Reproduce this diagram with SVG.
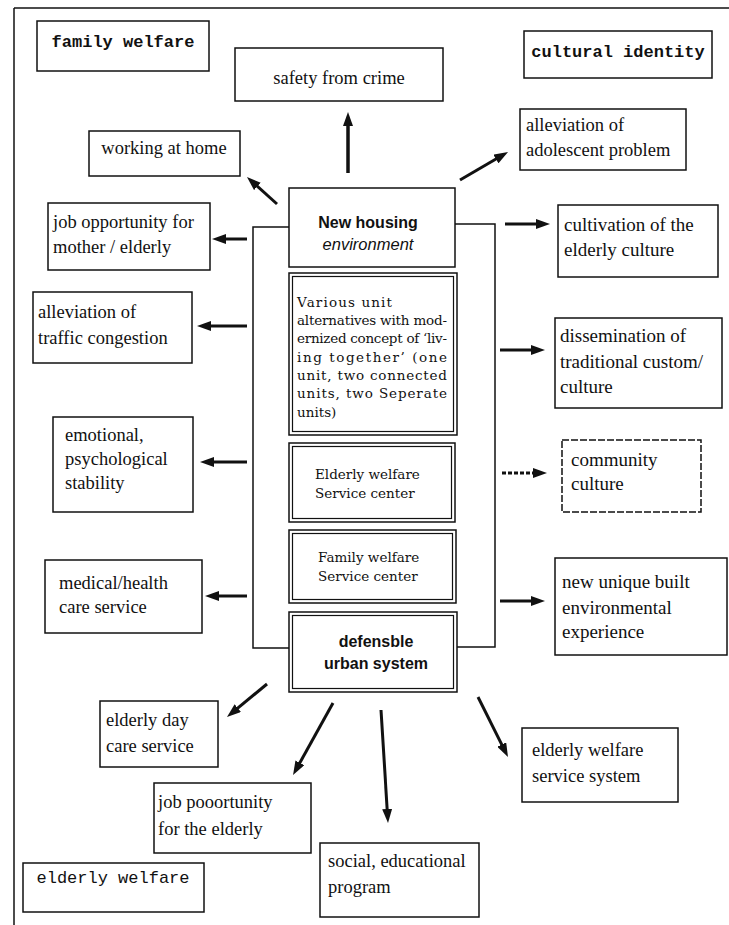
<svg xmlns="http://www.w3.org/2000/svg" width="729" height="925" viewBox="0 0 729 925">
<style>
.box{fill:#fff;stroke:#111;stroke-width:1.5}
.inner{fill:none;stroke:#111;stroke-width:1.2}
.t{font-family:"Liberation Serif","Times New Roman",serif;font-size:18.5px;fill:#111}
.tr{font-family:"Liberation Serif","Times New Roman",serif;font-size:19px;fill:#111}
.hdr{font-family:"Liberation Mono","Courier New",monospace;font-size:17px;font-weight:bold;fill:#111}
.c{font-family:"DejaVu Serif",serif;font-size:13.5px;fill:#111}
.s{font-family:"Liberation Sans",Arial,sans-serif;font-size:16px;font-weight:bold;fill:#111}
.si{font-family:"Liberation Sans",Arial,sans-serif;font-size:16.5px;font-style:italic;fill:#111}
.arr{stroke:#111;stroke-width:3;fill:none;marker-end:url(#ah)}
.br{stroke:#111;stroke-width:1.5;fill:none}
</style>
<defs>
<marker id="ah" markerUnits="userSpaceOnUse" markerWidth="14" markerHeight="10" refX="4" refY="5" orient="auto">
<path d="M0,0 L14,5 L0,10 z" fill="#111"/>
</marker>
</defs>
<rect width="729" height="925" fill="#fff"/>
<g id="frame">
<line x1="14" y1="8" x2="729" y2="8" class="br"/>
<line x1="14" y1="8" x2="14" y2="925" class="br"/>
</g>

<g id="connectors">
<polyline class="br" points="289,227 253,227 253,648 289,648"/>
<polyline class="br" points="455,224 495,224 495,647 457,647"/>
<line class="arr" x1="348" y1="173" x2="348" y2="122" style="stroke-width:3.5"/>
<line class="arr" x1="277" y1="204" x2="254.4" y2="183.7"/>
<line class="arr" x1="460" y1="180" x2="499.4" y2="157"/>
<line class="arr" x1="247" y1="239" x2="222" y2="239"/>
<line class="arr" x1="247" y1="326" x2="207" y2="326"/>
<line class="arr" x1="247" y1="462" x2="210" y2="462"/>
<line class="arr" x1="247" y1="596" x2="215" y2="596"/>
<line class="arr" x1="505" y1="224" x2="540" y2="224"/>
<line class="arr" x1="500" y1="350" x2="535" y2="350"/>
<line class="arr" x1="502" y1="473" x2="537" y2="473" style="stroke-dasharray:4 2"/>
<line class="arr" x1="500" y1="601" x2="535" y2="601"/>
<line class="arr" x1="267" y1="684" x2="234.7" y2="710.6"/>
<line class="arr" x1="333" y1="703" x2="297.9" y2="766.3"/>
<line class="arr" x1="381" y1="710" x2="387.4" y2="813"/>
<line class="arr" x1="478" y1="697" x2="503.5" y2="748.1"/>
</g>

<g id="family-welfare">
<rect class="box" x="37" y="21" width="172" height="50"/>
<text class="hdr" x="123" y="47" text-anchor="middle">family welfare</text>
</g>
<g id="cultural-identity">
<rect class="box" x="524" y="31" width="188" height="47"/>
<text class="hdr" x="618" y="57" text-anchor="middle">cultural identity</text>
</g>
<g id="elderly-welfare-label">
<rect class="box" x="23" y="863" width="181" height="49"/>
<text class="hdr" x="113" y="883" text-anchor="middle" style="font-weight:normal">elderly welfare</text>
</g>

<g id="safety">
<rect class="box" x="235" y="48" width="208" height="53"/>
<text class="t" x="339" y="84" text-anchor="middle">safety from crime</text>
</g>
<g id="working-home">
<rect class="box" x="89" y="131" width="151" height="45"/>
<text class="t" x="164" y="154" text-anchor="middle">working at home</text>
</g>
<g id="adolescent">
<rect class="box" x="520" y="109" width="166" height="61"/>
<text class="t" x="526" y="131">alleviation of</text>
<text class="t" x="526" y="156">adolescent problem</text>
</g>

<g id="new-housing">
<rect class="box" x="289" y="188" width="166" height="79"/>
<text class="s" x="368" y="228" text-anchor="middle">New housing</text>
<text class="si" x="368" y="250" text-anchor="middle">environment</text>
</g>
<g id="unit-alternatives">
<rect class="box" x="289" y="273" width="168" height="162"/>
<rect class="inner" x="292.5" y="276.5" width="161" height="155"/>
<text class="c" x="297" y="307" textLength="95" lengthAdjust="spacing">Various unit</text>
<text class="c" x="297" y="325" textLength="150" lengthAdjust="spacing">alternatives with mod-</text>
<text class="c" x="297" y="343" textLength="150" lengthAdjust="spacing">ernized concept of ‘liv-</text>
<text class="c" x="297" y="362" textLength="150" lengthAdjust="spacing">ing together’ (one</text>
<text class="c" x="297" y="380" textLength="150" lengthAdjust="spacing">unit, two connected</text>
<text class="c" x="297" y="398" textLength="150" lengthAdjust="spacing">units, two Seperate</text>
<text class="c" x="297" y="417">units)</text>
</g>
<g id="elderly-center">
<rect class="box" x="289" y="443" width="166" height="79"/>
<rect class="inner" x="292.5" y="446.5" width="159" height="72"/>
<text class="c" x="315" y="479">Elderly welfare</text>
<text class="c" x="315" y="498">Service center</text>
</g>
<g id="family-center">
<rect class="box" x="289" y="530" width="167" height="73"/>
<rect class="inner" x="292.5" y="533.5" width="160" height="66"/>
<text class="c" x="318" y="562">Family welfare</text>
<text class="c" x="318" y="581">Service center</text>
</g>
<g id="defensible">
<rect class="box" x="289" y="612" width="168" height="80"/>
<rect class="inner" x="292.5" y="615.5" width="161" height="73"/>
<text class="s" x="376" y="647" text-anchor="middle">defensble</text>
<text class="s" x="376" y="669" text-anchor="middle">urban system</text>
</g>

<g id="job-mother">
<rect class="box" x="48" y="203" width="162" height="67"/>
<text class="t" x="53" y="228">job opportunity for</text>
<text class="t" x="53" y="253">mother / elderly</text>
</g>
<g id="traffic">
<rect class="box" x="33" y="292" width="159" height="71"/>
<text class="t" x="38" y="318">alleviation of</text>
<text class="t" x="38" y="344">traffic congestion</text>
</g>
<g id="emotional">
<rect class="box" x="53" y="417" width="140" height="95"/>
<text class="t" x="65" y="441">emotional,</text>
<text class="t" x="65" y="465">psychological</text>
<text class="t" x="65" y="489">stability</text>
</g>
<g id="medical">
<rect class="box" x="45" y="560" width="157" height="73"/>
<text class="t" x="59" y="589">medical/health</text>
<text class="t" x="59" y="613">care service</text>
</g>

<g id="cultivation">
<rect class="box" x="558" y="205" width="160" height="72"/>
<text class="tr" x="564" y="231">cultivation of the</text>
<text class="tr" x="564" y="256">elderly culture</text>
</g>
<g id="dissemination">
<rect class="box" x="555" y="318" width="167" height="90"/>
<text class="tr" x="560" y="342">dissemination of</text>
<text class="tr" x="560" y="368">traditional custom/</text>
<text class="tr" x="560" y="393">culture</text>
</g>
<g id="community">
<rect class="box" x="562" y="440" width="139" height="72" style="stroke-dasharray:7 2"/>
<text class="tr" x="571" y="466">community</text>
<text class="tr" x="571" y="490">culture</text>
</g>
<g id="new-unique">
<rect class="box" x="555" y="558" width="172" height="97"/>
<text class="tr" x="562" y="588">new unique built</text>
<text class="tr" x="562" y="614">environmental</text>
<text class="tr" x="562" y="638">experience</text>
</g>

<g id="day-care">
<rect class="box" x="100" y="701" width="118" height="66"/>
<text class="t" x="106" y="726">elderly day</text>
<text class="t" x="106" y="752">care service</text>
</g>
<g id="job-elderly">
<rect class="box" x="154" y="783" width="157" height="70"/>
<text class="t" x="158" y="808">job pooortunity</text>
<text class="t" x="158" y="835">for the elderly</text>
</g>
<g id="social">
<rect class="box" x="320" y="843" width="159" height="74"/>
<text class="t" x="328" y="867">social, educational</text>
<text class="t" x="328" y="893">program</text>
</g>
<g id="welfare-system">
<rect class="box" x="522" y="728" width="156" height="74"/>
<text class="t" x="532" y="756">elderly welfare</text>
<text class="t" x="532" y="782">service system</text>
</g>
</svg>
